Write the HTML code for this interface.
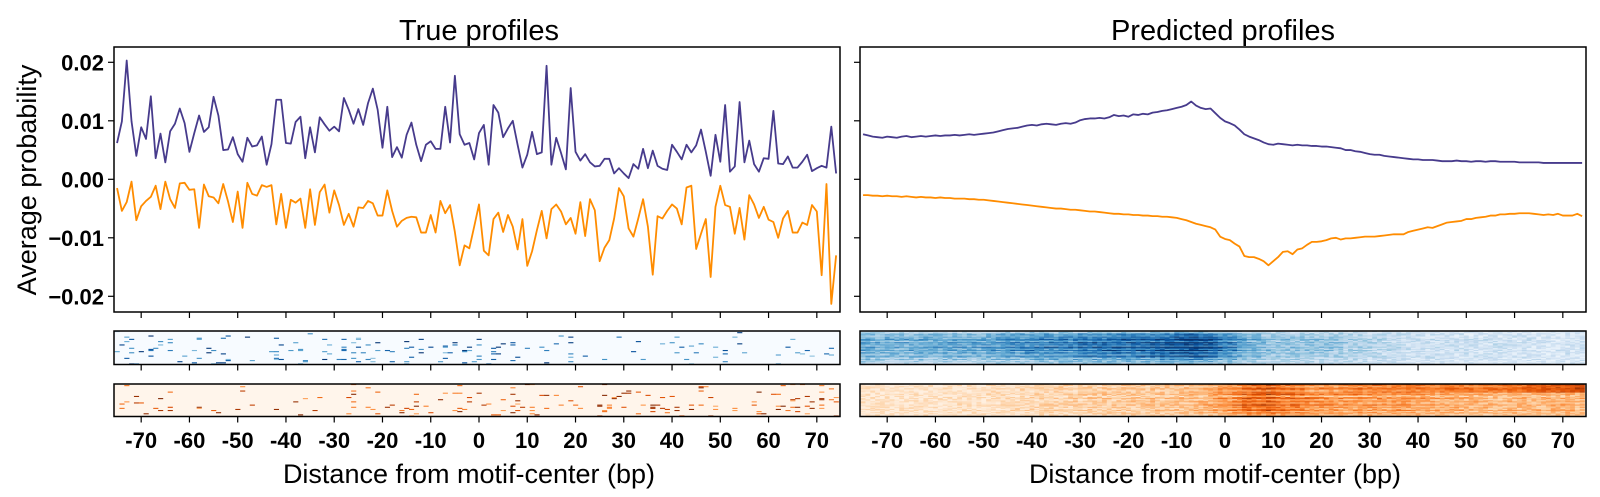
<!DOCTYPE html>
<html><head><meta charset="utf-8">
<style>
html,body{margin:0;padding:0;background:#fff;}
svg{display:block;font-family:"Liberation Sans",sans-serif;}
.tk{font-size:22px;font-weight:bold;fill:#000;}
</style></head>
<body>
<svg id="chart" width="1600" height="497" viewBox="0 0 1600 497" xmlns="http://www.w3.org/2000/svg"></svg>
<script>
// ---- data ----
const xStart = -75;
const xTicks = [-70,-60,-50,-40,-30,-20,-10,0,10,20,30,40,50,60,70];
const yTicks = [0.02,0.01,0.00,-0.01,-0.02];
const yTickLabels = ["0.02","0.01","0.00","\u22120.01","\u22120.02"];
const trueBlue = [6.2,9.9,20.3,9.9,4.0,8.9,6.9,14.2,3.6,7.8,2.9,8.2,9.5,12.1,9.6,4.7,7.9,10.9,8.1,8.9,14.1,10.9,5.0,5.1,7.2,4.3,3.0,7.1,5.6,5.8,7.3,2.5,6.0,13.6,13.6,6.2,6.1,9.8,10.7,3.6,8.9,4.6,10.6,9.4,8.3,9.0,8.2,13.9,11.9,9.5,12.0,9.3,13.0,15.5,11.9,5.4,12.4,3.8,5.5,3.7,7.6,9.7,5.9,3.1,5.9,6.5,5.2,5.2,12.4,6.3,17.7,7.7,5.9,
6.2,3.4,7.9,9.3,2.5,12.7,11.4,7.2,8.7,10.0,5.9,2.0,4.2,8.1,4.3,4.6,19.4,2.5,7.1,4.5,1.7,15.6,4.7,3.2,4.3,2.9,2.2,2.3,3.5,3.5,1.0,1.9,1.0,0.2,2.6,1.8,5.2,1.9,4.9,2.3,1.8,1.6,5.9,4.7,3.4,5.9,4.6,5.8,8.5,4.7,0.6,7.6,3.0,12.7,1.3,2.2,13.2,2.9,6.6,2.6,1.3,3.6,3.5,11.7,2.7,2.6,3.9,2.0,2.0,3.0,4.2,1.4,1.9,2.3,2.0,9.0,1.0];
const trueOrange = [-1.5,-5.4,-3.9,-0.4,-7.0,-4.6,-3.7,-3.0,-1.1,-5.1,-0.4,-3.4,-4.9,-0.7,-0.6,-1.8,-1.7,-8.3,-0.9,-2.9,-3.1,-4.1,-0.8,-3.8,-7.3,-2.1,-8.3,-0.6,-2.5,-2.8,-1.0,-1.3,-1.0,-7.7,-2.5,-8.3,-3.5,-4.0,-3.3,-8.3,-1.7,-7.8,-2.2,-0.9,-5.7,-1.9,-4.4,-7.8,-5.9,-8.1,-4.8,-4.9,-3.7,-4.1,-6.2,-6.2,-1.9,-5.4,-8.1,-7.1,-6.6,-6.4,-6.5,-9.1,-9.1,-6.1,-9.1,-3.7,-5.8,-4.4,-9.0,-14.7,-11.3,
-11.8,-8.1,-4.3,-12.2,-13.0,-6.8,-5.7,-9.0,-6.1,-8.1,-12.0,-6.8,-14.8,-12.3,-8.7,-5.4,-10.1,-5.1,-4.3,-5.5,-7.7,-6.6,-9.3,-3.9,-9.7,-3.4,-5.3,-14.0,-11.7,-10.4,-6.7,-1.5,-2.9,-8.4,-9.8,-6.7,-3.4,-8.1,-16.3,-6.3,-6.7,-5.4,-4.3,-5.0,-7.7,-1.4,-1.1,-11.9,-9.3,-6.8,-16.7,-4.7,-1.1,-4.4,-4.7,-9.3,-4.9,-10.3,-2.7,-4.3,-6.6,-4.7,-6.9,-7.3,-10.0,-6.7,-5.4,-9.1,-9.1,-7.4,-7.8,-4.4,-5.5,-16.4,-0.8,-21.3,-13.0];
const predBlue = [0.0077,0.0075,0.0073,0.0072,0.0071,0.0073,0.0072,0.0071,0.0073,0.0074,0.0072,0.0073,0.0074,0.0073,0.0074,0.0075,0.0074,0.0075,0.0075,0.0076,0.0075,0.0076,0.0077,0.0076,0.0077,0.0078,
0.0079,0.0080,0.0082,0.0084,0.0086,0.0087,0.0088,0.0090,0.0092,0.0093,0.0092,0.0094,0.0095,0.0094,0.0093,0.0095,0.0096,0.0095,0.0097,0.0101,0.0103,0.0104,0.0104,0.0105,0.0104,
0.0106,0.0110,0.0108,0.0109,0.0107,0.0111,0.0110,0.0112,0.0111,0.0114,0.0115,0.0117,0.0118,0.0120,0.0122,0.0124,0.0127,0.0133,0.0126,0.0122,0.0120,0.0121,0.0113,0.0105,
0.0099,0.0096,0.0092,0.0085,0.0077,0.0073,0.0070,0.0067,0.0063,0.0060,0.0059,0.0061,0.0060,0.0059,0.0058,0.0059,0.0058,0.0058,0.0057,0.0057,0.0056,0.0056,0.0055,0.0054,0.0053,
0.0050,0.0050,0.0048,0.0047,0.0045,0.0043,0.0042,0.0042,0.0040,0.0039,0.0038,0.0037,0.0036,0.0035,0.0034,0.0034,0.0033,0.0033,0.0033,0.0032,0.0031,0.0031,0.0031,0.0032,0.0031,
0.0031,0.0030,0.0031,0.0031,0.0030,0.0031,0.0031,0.0030,0.0030,0.0030,0.0030,0.0029,0.0029,0.0029,0.0029,0.0029,0.0028,0.0028,0.0028,0.0028,0.0028,0.0028,0.0028,0.0028,0.0028];
const predOrange = [-0.0027,-0.0027,-0.0028,-0.0028,-0.0029,-0.0028,-0.0029,-0.0029,-0.0030,-0.0029,-0.0030,-0.0031,-0.0030,-0.0031,-0.0031,-0.0032,-0.0031,-0.0032,-0.0032,-0.0033,-0.0033,-0.0033,-0.0034,-0.0034,-0.0035,-0.0035,
-0.0036,-0.0037,-0.0038,-0.0039,-0.0040,-0.0041,-0.0042,-0.0043,-0.0044,-0.0045,-0.0046,-0.0047,-0.0048,-0.0049,-0.0050,-0.0050,-0.0051,-0.0052,-0.0052,-0.0053,-0.0054,-0.0055,-0.0055,-0.0056,-0.0057,
-0.0058,-0.0059,-0.0059,-0.0060,-0.0060,-0.0061,-0.0061,-0.0062,-0.0062,-0.0063,-0.0063,-0.0064,-0.0064,-0.0065,-0.0066,-0.0068,-0.0070,-0.0073,-0.0076,-0.0078,-0.0080,-0.0082,-0.0086,-0.0098,
-0.0102,-0.0104,-0.0110,-0.0115,-0.0131,-0.0133,-0.0133,-0.0136,-0.0140,-0.0147,-0.0140,-0.0133,-0.0124,-0.0123,-0.0128,-0.0120,-0.0118,-0.0112,-0.0107,-0.0107,-0.0106,-0.0104,-0.0101,-0.0100,-0.0103,
-0.0101,-0.0101,-0.0100,-0.0099,-0.0098,-0.0098,-0.0098,-0.0097,-0.0096,-0.0095,-0.0094,-0.0094,-0.0094,-0.0090,-0.0088,-0.0086,-0.0084,-0.0082,-0.0083,-0.0080,-0.0077,-0.0074,-0.0073,-0.0072,-0.0071,
-0.0068,-0.0068,-0.0066,-0.0065,-0.0064,-0.0062,-0.0062,-0.0060,-0.0060,-0.0059,-0.0059,-0.0058,-0.0058,-0.0058,-0.0059,-0.0060,-0.0061,-0.0060,-0.0061,-0.0059,-0.0062,-0.0062,-0.0062,-0.0059,-0.0063];
const rowWeightsBlue = [0.3,0.5,0.9,1.1,0.8,1.3,1.0,1.5,1.2,0.9,1.6,1.1,1.4,0.8,1.7,1.2,1.0,1.5,0.9,1.3,1.1,0.7,1.4,1.0,0.6,0.9,0.5,0.7,0.4,0.5];
const rowWeightsOrange = [1.5,1.2,0.8,1.2,1.4,1.0,0.7,1.3,1.1,1.5,0.9,0.6,1.2,1.4,0.8,1.0,1.3,0.7,1.1,1.5,0.9,1.2,0.8,1.0,1.3,0.7,1.1,0.9,0.6,0.8];

// ---- layout ----
const NS = "http://www.w3.org/2000/svg";
const svg = document.getElementById('chart');
const panels = [{x0:114, x1:840, zero:479}, {x0:860, x1:1586, zero:1225}];
const kx = 4.826;
const yTop = 47, yBot = 312, yZero = 179.3, ky = 5850;
const hm1 = [331, 364.5], hm2 = [384, 416.5];
function xs(p, v){ return panels[p].zero + v*kx; }
function ys(v){ return yZero - v*ky; }
function el(tag, attrs, parent){ const e=document.createElementNS(NS,tag); for(const k in attrs) e.setAttribute(k,attrs[k]); (parent||svg).appendChild(e); return e; }

function interp(stops, t){
  t=Math.max(0,Math.min(1,t)); const n=stops.length-1; const f=t*n; const i=Math.min(n-1,Math.floor(f)); const u=f-i;
  const a=stops[i], b=stops[i+1];
  return `rgb(${Math.round(a[0]+(b[0]-a[0])*u)},${Math.round(a[1]+(b[1]-a[1])*u)},${Math.round(a[2]+(b[2]-a[2])*u)})`;
}
const BLUES=[[247,251,255],[222,235,247],[198,219,239],[158,202,225],[107,174,214],[66,146,198],[33,113,181],[8,81,156],[8,48,107]];
const ORANGES=[[255,245,235],[254,230,206],[253,208,162],[253,174,107],[253,141,60],[241,105,19],[217,72,1],[166,54,3],[127,39,4]];
function hash(a,b){ let h=(a*374761393 + b*668265263)|0; h=(h^(h>>>13))*1274126177|0; return ((h^(h>>>16))>>>0)/4294967296; }

const t1 = el('text',{x:479,y:40,'text-anchor':'middle','font-size':29}); t1.textContent='True profiles';
 
const t2 = el('text',{x:1223,y:40,'text-anchor':'middle','font-size':29}); t2.textContent='Predicted profiles';
 
const yl = el('text',{x:0,y:0,'text-anchor':'middle','font-size':27,transform:'translate(36,180) rotate(-90)'}); yl.textContent='Average probability';
 

const series = [[trueBlue.map(v=>v/1000), trueOrange.map(v=>v/1000)], [predBlue, predOrange]];
for(let p=0;p<2;p++){
  const P=panels[p];
  const g=el('g',{});
  
  
  yTicks.forEach((v,i)=>{
    el('line',{x1:P.x0-6,x2:P.x0,y1:ys(v),y2:ys(v),stroke:'#000','stroke-width':1.2},g);
    if(p===0){ const t=el('text',{x:104,y:ys(v)+8,'text-anchor':'end',class:'tk'},g); t.textContent=yTickLabels[i];
        }
  });
  xTicks.forEach(v=>{
    [yBot, hm1[1], hm2[1]].forEach(yy=>el('line',{x1:xs(p,v),x2:xs(p,v),y1:yy,y2:yy+6,stroke:'#000','stroke-width':1.2},g));
    const t=el('text',{x:xs(p,v),y:448,'text-anchor':'middle',class:'tk'},g); t.textContent=String(v);
     
  });
  const cols=['#473b8c','#ff8c00'];
  series[p].forEach((arr,si)=>{
    const d=arr.map((v,i)=>(i?'L':'M')+xs(p,xStart+i).toFixed(2)+','+ys(v).toFixed(2)).join('');
    const path=el('path',{d:d,fill:'none',stroke:cols[si],'stroke-width':1.8,'stroke-linejoin':'round'},g);
    
    
  });
  const fr=el('rect',{x:P.x0,y:yTop,width:P.x1-P.x0,height:yBot-yTop,fill:'none',stroke:'#000','stroke-width':1.5},g);
   

  [[hm1,BLUES,series[p][0],rowWeightsBlue,'blue'],[hm2,ORANGES,series[p][1],rowWeightsOrange,'orange']].forEach(([hm,pal,arr,rw,nm],hi)=>{
    const hg=el('g',{},g);
    
    
    el('rect',{x:P.x0,y:hm[0],width:P.x1-P.x0,height:hm[1]-hm[0],fill:interp(pal,0)},hg);
    const nr=rw.length, rh=(hm[1]-hm[0])/nr;
    for(let r=0;r<nr;r++){
      for(let i=0;i<arr.length;i++){
        const v=Math.abs(arr[i]);
        let t;
        if(p===0){
          const h=hash(i+hi*997,r);
          const prob=v*8*(0.3+r/nr)*rw[r];
          if(h>prob) continue;
          t=0.4+0.6*hash(r+hi*31,i*7);
        } else if(hi===0){
          const norm=(v-0.0025)/0.011;
          t=Math.max(0.05, 0.15+norm*rw[r]*0.65 + (hash(i,r)-0.5)*0.25);
        } else {
          const norm=(v-0.0025)/0.012;
          const right=Math.max(0,(xStart+i-20)/55)*(r<8?0.5:0.1);
          t=Math.max(0.05, 0.1+norm*rw[r]*0.5 + right + (hash(i,r+50)-0.5)*0.25);
        }
        el('rect',{x:xs(p,xStart+i)-kx/2,y:hm[0]+r*rh,width:kx+0.3,height:p===0?Math.min(rh,1.2):rh+0.2,fill:interp(pal,t)},hg);
      }
    }
    el('rect',{x:P.x0,y:hm[0],width:P.x1-P.x0,height:hm[1]-hm[0],fill:'none',stroke:'#000','stroke-width':1.5},hg);
  });
  const xl=el('text',{x:P.zero-10,y:483,'text-anchor':'middle','font-size':27},g); xl.textContent='Distance from motif-center (bp)';
   
}
</script>
</body></html>
